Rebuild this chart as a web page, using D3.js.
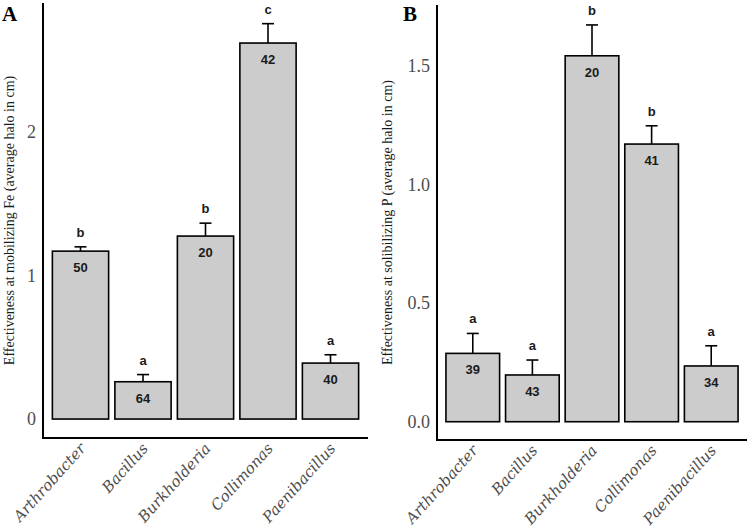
<!DOCTYPE html>
<html><head><meta charset="utf-8">
<script src="https://cdn.jsdelivr.net/npm/d3@7"></script>
<style>body{margin:0;background:#fff}</style>
</head><body>
<svg id="c" width="748" height="529"></svg>
<script>
const categories = ["Arthrobacter","Bacillus","Burkholderia","Collimonas","Paenibacillus"];
const feMean = [1.17, 0.26, 1.275, 2.62, 0.39];
const feErr = [0.03, 0.05, 0.09, 0.135, 0.058];
const feN = [50, 64, 20, 42, 40];
const feLetters = ["b","a","b","c","a"];
const feTicks = [0, 1, 2];
const pMean = [0.288, 0.197, 1.542, 1.17, 0.235];
const pErr = [0.084, 0.063, 0.13, 0.077, 0.085];
const pN = [39, 43, 20, 41, 34];
const pLetters = ["a","a","b","b","a"];
const pTicks = [0, 0.5, 1.0, 1.5];

const svg = d3.select("#c");
const SERIF = "'Liberation Serif', 'Times New Roman', serif";
const SANS = "'Liberation Sans', Arial, sans-serif";

function panel(opt){
  const g = svg.append("g");
  const x = d3.scalePoint().domain(categories).range([opt.x0, opt.x1]).padding(0.6);
  const step = x.step();
  const bw = step*0.9;
  const y = d3.scaleLinear().domain(opt.ydom).range([opt.yb, opt.yt]);
  g.append("line").attr("x1",opt.x0).attr("x2",opt.x0).attr("y1",opt.yt).attr("y2",opt.yb+1)
    .attr("stroke","#000").attr("stroke-width",2);
  g.append("line").attr("x1",opt.x0-1).attr("x2",opt.x1).attr("y1",opt.yb).attr("y2",opt.yb)
    .attr("stroke","#000").attr("stroke-width",2);
  const ya = d3.axisLeft(y).tickValues(opt.ticks).tickFormat(opt.fmt).tickSize(0).tickPadding(7);
  const ag = g.append("g").attr("transform",`translate(${opt.x0},0)`).call(ya);
  ag.attr("font-family",null).attr("font-size",null);
  ag.select(".domain").remove();
  ag.selectAll("text").style("font-family",SERIF).style("font-size","18px").attr("fill","#4d4d4d");
  g.selectAll("text.xl").data(categories).enter().append("text").attr("class","xl")
    .attr("transform",d=>`translate(${x(d)+6},${opt.yb+11}) rotate(-48)`)
    .attr("text-anchor","end")
    .style("font-family","'DejaVu Serif', serif").style("font-style","italic")
    .style("font-size","15px").attr("fill","#4d4d4d").text(d=>d);
  const data = categories.map((c,i)=>({c, m:opt.mean[i], e:opt.err[i], n:opt.n[i], l:opt.letters[i]}));
  data.forEach(d=>{
    const cx = x(d.c);
    g.append("line").attr("x1",cx).attr("x2",cx).attr("y1",y(d.m)).attr("y2",y(d.m+d.e))
      .attr("stroke","#000").attr("stroke-width",1.6);
    g.append("line").attr("x1",cx-6).attr("x2",cx+6).attr("y1",y(d.m+d.e)).attr("y2",y(d.m+d.e))
      .attr("stroke","#000").attr("stroke-width",1.6);
  });
  g.selectAll("rect.bar").data(data).enter().append("rect")
    .attr("x",d=>x(d.c)-bw/2).attr("width",bw)
    .attr("y",d=>y(d.m)).attr("height",d=>y(0)-y(d.m))
    .attr("fill","#cccccc").attr("stroke","#000").attr("stroke-width",1.6);
  g.selectAll("text.n").data(data).enter().append("text")
    .attr("x",d=>x(d.c)).attr("y",d=>y(d.m)+21).attr("text-anchor","middle")
    .style("font-family",SANS).style("font-size","13px")
    .attr("font-weight","bold").attr("fill","#1a1a1a").text(d=>d.n);
  g.selectAll("text.l").data(data).enter().append("text")
    .attr("x",d=>x(d.c)).attr("y",d=>y(d.m+d.e)-10).attr("text-anchor","middle")
    .style("font-family",SANS).style("font-size","13px")
    .attr("font-weight","bold").attr("fill","#1a1a1a").text(d=>d.l);
  g.append("text").attr("transform",`translate(${opt.tx},${(opt.yt+opt.yb)/2}) rotate(-90)`)
    .attr("text-anchor","middle").style("font-family",SERIF)
    .style("font-size","14px").attr("fill","#1a1a1a").text(opt.title);
  g.append("text").attr("x",opt.lx).attr("y",21).style("font-family",SERIF)
    .style("font-size","21px").attr("font-weight","bold").attr("fill","#000").text(opt.letter);
}

panel({x0:43, x1:368, yt:3, yb:438, ydom:[-0.132, 2.899], ticks:feTicks, fmt:d3.format("d"),
  mean:feMean, err:feErr, n:feN, letters:feLetters, tx:14,
  title:"Effectiveness at mobilizing Fe (average halo in cm)", letter:"A", lx:2});
panel({x0:437, x1:747, yt:5, yb:440, ydom:[-0.077, 1.756], ticks:pTicks, fmt:d3.format(".1f"),
  mean:pMean, err:pErr, n:pN, letters:pLetters, tx:392,
  title:"Effectiveness at solibilizing P (average halo in cm)", letter:"B", lx:403});
</script>
</body></html>
